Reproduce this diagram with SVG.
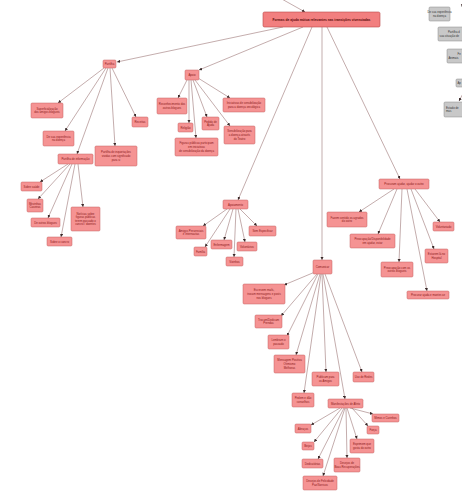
<svg xmlns="http://www.w3.org/2000/svg" width="462" height="494" viewBox="0 0 462 494">
<defs>
<marker id="ar" viewBox="0 0 6 6" refX="6" refY="3" markerWidth="3.2" markerHeight="3.2" markerUnits="userSpaceOnUse" orient="auto"><path d="M0,0 L6,3 L0,6 z" fill="#3a2a2a"/></marker>
<style>
.n rect{fill:#f59393;stroke:#c46060;stroke-width:0.5}
.n text{font-family:"Liberation Sans",Arial,sans-serif;font-size:2.8px;fill:#8b1818;text-anchor:middle}
.r rect{fill:#f27f7f;stroke:#b84848;stroke-width:0.6}
.r text{font-family:"Liberation Sans",Arial,sans-serif;font-size:3.3px;font-weight:bold;fill:#5a0808;text-anchor:middle}
.g rect{fill:#c8c8c8;stroke:#8a8a8a;stroke-width:0.5}
.g text{font-family:"Liberation Sans",Arial,sans-serif;font-size:2.8px;fill:#333;text-anchor:start}
.g text.c{text-anchor:middle}
#edges path{fill:none;stroke:#9c7676;stroke-width:0.6;marker-end:url(#ar)}
</style>
</defs>
<rect width="462" height="494" fill="#fff"/>
<g id="edges">
<path d="M280,-2 L305,12"/>
<path d="M283,27 L117,62"/>
<path d="M303,27 L199,70"/>
<path d="M312,27 L238,200"/>
<path d="M322,27 L322,260"/>
<path d="M327,27 L400,179"/>
<path d="M104,68 L58,103"/>
<path d="M106,68 L65,131"/>
<path d="M108,68 L77,154"/>
<path d="M110,68 L115,146"/>
<path d="M112,68 L136,117"/>
<path d="M68,164 L40,182"/>
<path d="M70,164 L38,199"/>
<path d="M72,164 L48,218"/>
<path d="M75,164 L61,237"/>
<path d="M78,164 L83,207"/>
<path d="M187,80 L178,98"/>
<path d="M189,80 L189,123"/>
<path d="M191,80 L196,138"/>
<path d="M193,80 L207,117"/>
<path d="M195,80 L230,126"/>
<path d="M198,78 L230,98"/>
<path d="M227,209 L203,226"/>
<path d="M230,209 L205,247"/>
<path d="M233,209 L224,240"/>
<path d="M236,209 L234,257"/>
<path d="M238,209 L245,242"/>
<path d="M240,209 L257,226"/>
<path d="M394,189 L359,212"/>
<path d="M397,189 L378,234"/>
<path d="M402,189 L399,262"/>
<path d="M407,189 L427,291"/>
<path d="M411,189 L434,249"/>
<path d="M415,189 L440,222"/>
<path d="M315,272 L284,285"/>
<path d="M317,274 L281,316"/>
<path d="M318,274 L287,336"/>
<path d="M320,274 L296,355"/>
<path d="M322,274 L326,372"/>
<path d="M325,274 L362,372"/>
<path d="M321,274 L304,393"/>
<path d="M323,274 L345,399"/>
<path d="M350,408 L373,414"/>
<path d="M340,408 L311,425"/>
<path d="M342,408 L314,442"/>
<path d="M352,408 L368,426"/>
<path d="M347,408 L357,439"/>
<path d="M344,408 L318,459"/>
<path d="M346,408 L347,458"/>
<path d="M345,408 L323,476"/>
<path d="M470,14 L461,4"/>
<path d="M466,88 L459,101"/>
</g>
<g id="root" class="r"><rect x="263" y="12" width="117" height="15" rx="1.5"/><text x="321.5" y="20.7">Formas de ajuda mútua relevantes nas transições vivenciadas</text></g>
<g id="partilha" class="n"><rect x="103" y="60" width="13" height="8" rx="1.2"/><text x="109.5" y="65">Partilha</text></g>
<g id="superf" class="n"><rect x="31" y="103" width="32" height="15" rx="1.2"/><text x="47" y="109.7">Superficialização</text><text x="47" y="113.3">dos amigos blogueis</text></g>
<g id="exp" class="n"><rect x="43" y="131" width="31" height="15" rx="1.2"/><text x="58.5" y="137.7">De sua experiência</text><text x="58.5" y="141.3">na doença</text></g>
<g id="pinfo" class="n"><rect x="58" y="154" width="35" height="10" rx="1.2"/><text x="75.5" y="160">Partilha de informação</text></g>
<g id="pinq" class="n"><rect x="95" y="146" width="42" height="20" rx="1.2"/><text x="116" y="153.4">Partilha de inquietações</text><text x="116" y="157">vividas com significado</text><text x="116" y="160.6">para si</text></g>
<g id="receitas" class="n"><rect x="132" y="117" width="16" height="10" rx="1.2"/><text x="140" y="123">Receitas</text></g>
<g id="saude" class="n"><rect x="21" y="182" width="21" height="9" rx="1.2"/><text x="31.5" y="187.5">Sobre saúde</text></g>
<g id="mezinhas" class="n"><rect x="27" y="199" width="16" height="13" rx="1.2"/><text x="35" y="204.7">Mezinhas</text><text x="35" y="208.3">Caseiras</text></g>
<g id="oblog" class="n"><rect x="31" y="218" width="29" height="9" rx="1.2"/><text x="45.5" y="223.5">De outros blogues</text></g>
<g id="cancro" class="n"><rect x="47" y="237" width="25" height="9" rx="1.2"/><text x="59.5" y="242.5">Sobre o cancro</text></g>
<g id="noticias" class="n"><rect x="71" y="207" width="29" height="24" rx="1.2"/><text x="85.5" y="214.6">Notícias sobre</text><text x="85.5" y="218.2">figuras públicas</text><text x="85.5" y="221.8">terem passado o</text><text x="85.5" y="225.4">cancro / doentes</text></g>
<g id="apoio" class="n"><rect x="185" y="70" width="14" height="10" rx="1.2"/><text x="192" y="76">Apoio</text></g>
<g id="recon" class="n"><rect x="157" y="98" width="30" height="16" rx="1.2"/><text x="172" y="105.2">Reconhecimento dos</text><text x="172" y="108.8">outros blogues</text></g>
<g id="religiao" class="n"><rect x="178" y="123" width="15" height="9" rx="1.2"/><text x="185.5" y="128.5">Religião</text></g>
<g id="figuras" class="n"><rect x="175" y="138" width="43" height="18" rx="1.2"/><text x="196.5" y="144.4">Figuras públicas participam</text><text x="196.5" y="148">em iniciativas</text><text x="196.5" y="151.6">de sensibilização da doença</text></g>
<g id="pedido" class="n"><rect x="202" y="117" width="17" height="13" rx="1.2"/><text x="210.5" y="122.7">Pedido de</text><text x="210.5" y="126.3">Ajuda</text></g>
<g id="teatro" class="n"><rect x="224" y="126" width="31" height="18" rx="1.2"/><text x="239.5" y="132.4">Sensibilização para</text><text x="239.5" y="136">a doença através</text><text x="239.5" y="139.6">do Teatro</text></g>
<g id="iniciativas" class="n"><rect x="223" y="98" width="42" height="14" rx="1.2"/><text x="244" y="104.2">Iniciativas de sensibilização</text><text x="244" y="107.8">para a doença oncológica</text></g>
<g id="apoiamento" class="n"><rect x="223" y="200" width="25" height="9" rx="1.2"/><text x="235.5" y="205.5">Apoiamento</text></g>
<g id="amigos" class="n"><rect x="176" y="226" width="30" height="13" rx="1.2"/><text x="191" y="231.7">Amigos Presenciais</text><text x="191" y="235.3">e Internautas</text></g>
<g id="familia" class="n"><rect x="194" y="247" width="13" height="9" rx="1.2"/><text x="200.5" y="252.5">Família</text></g>
<g id="enfermagem" class="n"><rect x="211" y="240" width="21" height="9" rx="1.2"/><text x="221.5" y="245.5">Enfermagem</text></g>
<g id="voluntarios" class="n"><rect x="237" y="242" width="20" height="9" rx="1.2"/><text x="247" y="247.5">Voluntários</text></g>
<g id="vizinhos" class="n"><rect x="226" y="257" width="17" height="9" rx="1.2"/><text x="234.5" y="262.5">Vizinhos</text></g>
<g id="semesp" class="n"><rect x="249" y="226" width="27" height="10" rx="1.2"/><text x="262.5" y="232">Sem Especificar</text></g>
<g id="procurar" class="n"><rect x="379" y="179" width="50" height="10" rx="1.2"/><text x="404" y="185">Procuram ajudar, ajudar o outro</text></g>
<g id="fazem" class="n"><rect x="327" y="212" width="40" height="15" rx="1.2"/><text x="347" y="218.7">Fazem sentido os agrados</text><text x="347" y="222.3">do outro</text></g>
<g id="preoc1" class="n"><rect x="350" y="234" width="45" height="14" rx="1.2"/><text x="372.5" y="240.2">Preocupação/Disponibilidade</text><text x="372.5" y="243.8">em ajudar, estar</text></g>
<g id="preoc2" class="n"><rect x="381" y="262" width="32" height="15" rx="1.2"/><text x="397" y="268.7">Preocupação com os</text><text x="397" y="272.3">outros blogueis</text></g>
<g id="procajuda" class="n"><rect x="407" y="291" width="42" height="8" rx="1.2"/><text x="428" y="296">Procurar ajuda e manter-se</text></g>
<g id="estarem" class="n"><rect x="425" y="249" width="23" height="14" rx="1.2"/><text x="436.5" y="255.2">Estarem lá no</text><text x="436.5" y="258.8">Hospital</text></g>
<g id="voluntariado" class="n"><rect x="433" y="222" width="21" height="9" rx="1.2"/><text x="443.5" y="227.5">Voluntariado</text></g>
<g id="comunicar" class="n"><rect x="313" y="260" width="19" height="14" rx="1.2"/><text x="322.5" y="268">Comunicar</text></g>
<g id="escrevem" class="n"><rect x="243" y="284" width="42" height="20" rx="1.2"/><text x="264" y="291.4">Escrevem mails,</text><text x="264" y="295">trocam mensagens e posts</text><text x="264" y="298.6">nos blogues</text></g>
<g id="trocam" class="n"><rect x="255" y="315" width="27" height="13" rx="1.2"/><text x="268.5" y="320.7">Trocam/Dedicam</text><text x="268.5" y="324.3">Prendas</text></g>
<g id="lembram" class="n"><rect x="268" y="335" width="21" height="14" rx="1.2"/><text x="278.5" y="341.2">Lembram o</text><text x="278.5" y="344.8">passado</text></g>
<g id="mensagem" class="n"><rect x="274" y="355" width="31" height="18" rx="1.2"/><text x="289.5" y="361.4">Mensagem Positiva</text><text x="289.5" y="365">Otimismo</text><text x="289.5" y="368.6">Melhoras</text></g>
<g id="publicam" class="n"><rect x="312" y="372" width="27" height="14" rx="1.2"/><text x="325.5" y="378.2">Publicam para</text><text x="325.5" y="381.8">os Amigos</text></g>
<g id="redes" class="n"><rect x="353" y="372" width="21" height="10" rx="1.2"/><text x="363.5" y="378">Uso de Redes</text></g>
<g id="pedem" class="n"><rect x="292" y="393" width="22" height="14" rx="1.2"/><text x="303" y="399.2">Pedem e dão</text><text x="303" y="402.8">conselhos</text></g>
<g id="manif" class="n"><rect x="328" y="399" width="35" height="9" rx="1.2"/><text x="345.5" y="404.5">Manifestações de Afeto</text></g>
<g id="mimos" class="n"><rect x="372" y="414" width="27" height="8" rx="1.2"/><text x="385.5" y="419">Mimos e Carinhos</text></g>
<g id="abracos" class="n"><rect x="295" y="424" width="16" height="9" rx="1.2"/><text x="303" y="429.5">Abraços</text></g>
<g id="beijos" class="n"><rect x="302" y="442" width="12" height="8" rx="1.2"/><text x="308" y="447">Beijos</text></g>
<g id="forca" class="n"><rect x="367" y="426" width="12" height="8" rx="1.2"/><text x="373" y="431">Força</text></g>
<g id="exprimem" class="n"><rect x="350" y="439" width="24" height="14" rx="1.2"/><text x="362" y="445.2">Exprimem que</text><text x="362" y="448.8">gosta do outro</text></g>
<g id="dedicatorias" class="n"><rect x="302" y="459" width="21" height="9" rx="1.2"/><text x="312.5" y="464.5">Dedicatórias</text></g>
<g id="boasrec" class="n"><rect x="334" y="458" width="26" height="14" rx="1.2"/><text x="347" y="464.2">Desejos de</text><text x="347" y="467.8">Boas Recuperações</text></g>
<g id="felicidade" class="n"><rect x="303" y="476" width="34" height="14" rx="1.2"/><text x="320" y="482.2">Desejos de Felicidade</text><text x="320" y="485.8">Paz/Sorrisos</text></g>
<g id="g1" class="g"><rect x="429" y="7" width="21" height="14" rx="1.2"/><text class="c" x="439.5" y="13.2">De sua experiência</text><text class="c" x="439.5" y="16.8">na doença</text></g>
<g id="g2" class="g"><rect x="438" y="27" width="62" height="14" rx="1.2"/><text x="448" y="33.2">Partilha d</text><text x="439.5" y="36.8">sua situação de</text></g>
<g id="g3" class="g"><rect x="447" y="49" width="53" height="14" rx="1.2"/><text x="457.5" y="55.2">Fe</text><text x="448.5" y="58.8">Animais</text></g>
<g id="g4" class="g"><rect x="456" y="79" width="34" height="8" rx="1.2"/><text x="457.5" y="84">Ap</text></g>
<g id="g5" class="g"><rect x="444" y="102" width="56" height="15" rx="1.2"/><text x="446" y="108.7">Estado de</text><text x="446" y="112.3">mas</text></g>
</svg>
